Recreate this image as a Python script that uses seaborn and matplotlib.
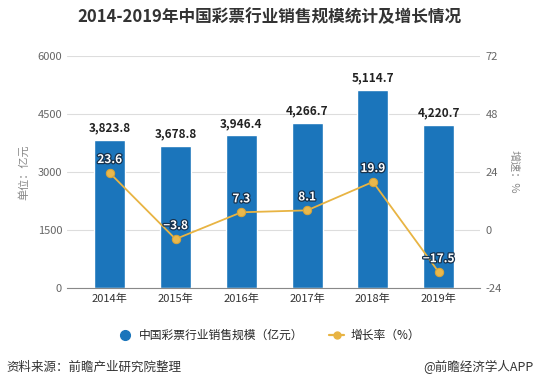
import numpy as np
import pandas as pd
import seaborn as sns
import matplotlib.pyplot as plt
import matplotlib.patheffects as pe
from matplotlib.lines import Line2D

sns.set_style("white")
plt.rcParams['font.family'] = ['Noto Sans CJK SC', 'DejaVu Sans']
plt.rcParams['axes.unicode_minus'] = False

# ===================== DATA =====================
years = ["2014年", "2015年", "2016年", "2017年", "2018年", "2019年"]
sales = [3823.8, 3678.8, 3946.4, 4266.7, 5114.7, 4220.7]
growth = [23.6, -3.8, 7.3, 8.1, 19.9, -17.5]

df = pd.DataFrame({"year": years, "sales": sales, "growth": growth})

BLUE = "#1b75bb"
ORANGE = "#e8b443"
GRAY = "#666666"

# ===================== FIGURE =====================
fig = plt.figure(figsize=(5.38, 3.90), dpi=100)
ax = fig.add_axes([0.1245, 0.262, 0.768, 0.594])

sns.barplot(data=df, x="year", y="sales", color=BLUE, width=0.47,
            saturation=1, ax=ax)
ax.set_ylim(0, 6000)
ax.set_yticks([0, 1500, 3000, 4500, 6000])
ax.set_xlim(-0.65, len(years) - 0.37)
ax.grid(axis="y", color="#dddddd", linewidth=0.8)
ax.set_axisbelow(True)
for s in ["top", "right", "left"]:
    ax.spines[s].set_visible(False)
ax.spines["bottom"].set_color("#888888")
ax.tick_params(axis="both", labelsize=8, colors=GRAY, length=0)
ax.tick_params(axis="x", colors="#333333", pad=4)
ax.set_xlabel("")
ax.set_ylabel("单位：亿元", fontsize=8, color="#888888", labelpad=6)

for i, v in enumerate(sales):
    ax.annotate(f"{v:,.1f}", (i, v), xytext=(0, 4), textcoords="offset points",
                ha="center", va="bottom", fontsize=8.5, fontweight="bold",
                color="#222222")

# ===================== GROWTH LINE =====================
ax2 = ax.twinx()
x_pos = np.arange(len(years))
sns.lineplot(x=x_pos, y=growth, color=ORANGE, linewidth=1.3, marker="o",
             markersize=6, markerfacecolor="#e9b84c", markeredgecolor="#d9a437",
             ax=ax2)
ax2.set_ylim(-24, 72)
ax2.set_yticks([-24, 0, 24, 48, 72])
for s in ["top", "right", "left", "bottom"]:
    ax2.spines[s].set_visible(False)
ax2.tick_params(axis="y", labelsize=8, colors=GRAY, length=0, pad=4)
ax2.set_ylabel("增速：%", fontsize=8, color="#888888", rotation=270,
               labelpad=12)

outline = [pe.withStroke(linewidth=1.8, foreground="#17324d")]
for i, v in enumerate(growth):
    label = f"{v:.1f}".replace("-", "−")
    ax2.annotate(label, (i, v), xytext=(0, 5), textcoords="offset points",
                 ha="center", va="bottom", fontsize=8.5, fontweight="bold",
                 color="white", path_effects=outline)

# ===================== LEGEND =====================
handles = [
    Line2D([], [], marker="o", linestyle="none", markersize=7,
           markerfacecolor=BLUE, markeredgecolor=BLUE),
    Line2D([], [], marker="o", color=ORANGE, linewidth=1.6, markersize=5),
]
fig.legend(handles, ["中国彩票行业销售规模（亿元）", "增长率（%）"],
           loc="center", bbox_to_anchor=(0.5, 0.14), ncol=2, frameon=False,
           fontsize=8.5, handlelength=1.2, handletextpad=0.6,
           columnspacing=2.2)

# ===================== TEXTS =====================
fig.text(0.5, 0.955, "2014-2019年中国彩票行业销售规模统计及增长情况",
         ha="center", va="center", fontsize=12, fontweight="bold",
         color="#333333")
fig.text(0.012, 0.058, "资料来源：前瞻产业研究院整理", ha="left",
         va="center", fontsize=9, color="#333333")
fig.text(0.992, 0.058, "@前瞻经济学人APP", ha="right", va="center",
         fontsize=9, color="#333333")

fig.savefig("out.png", dpi=100)
